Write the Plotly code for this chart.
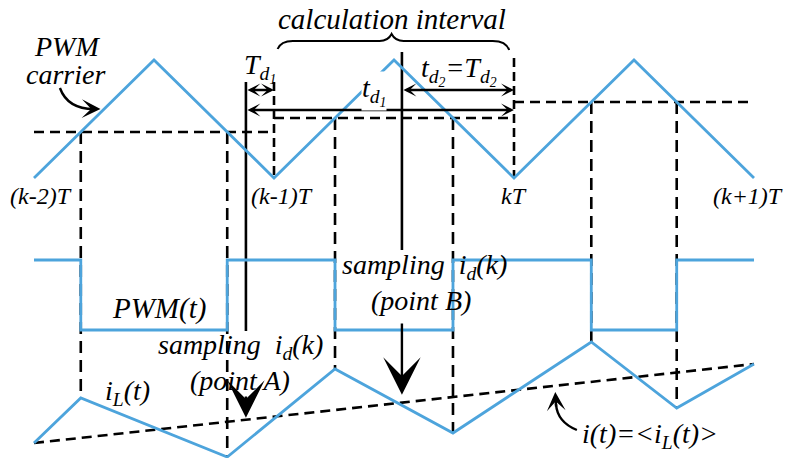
import numpy as np
import plotly.graph_objects as go

# ---- waveform data (time in switching periods T, vertical in drawing units) ----
carrier_t = [0, 0.5, 1, 1.5, 2, 2.5, 3]
carrier_v = [280, 398, 280, 398, 280, 398, 280]
duty_ref = [326, 340, 356]                 # modulating reference held in each period
pwm_levels = [198, 128]                    # PWM high / low
iL_values = [15, 60, 1, 89, 25, 116, 50, 94]  # i_L at t=0, at every switching edge, at t=3
avg_values = [15, 94]                      # <i_L> at t=0 and t=3
sample_t = [0.883, 1.533]                  # sampling instants: point A, point B
period_labels = ["(k-2)T", "(k-1)T", "kT", "(k+1)T"]

BLUE = "#4DA4DC"
FONT = dict(family="Times New Roman, Liberation Serif, Times, serif",
            style="italic", color="black")

valley, peak = min(carrier_v), max(carrier_v)
edges = []
for k, r in enumerate(duty_ref):
    frac = 0.5 * (r - valley) / (peak - valley)
    edges += [k + frac, k + 1 - frac]

iL_t = [0] + edges + [3]
pwm_t = [0] + edges + [3]
pwm_y = [pwm_levels[i % 2] for i in range(len(edges) + 1)] + [pwm_levels[0]]
avg_t = [0, 3]


def avg_at(t):
    return float(np.interp(t, avg_t, avg_values))


fig = go.Figure()


def seg(x, y, color="black", width=2.6, dash=None):
    fig.add_trace(go.Scatter(x=x, y=y, mode="lines", hoverinfo="skip",
                             line=dict(color=color, width=width, dash=dash)))


# reference levels over each period
for k, r in enumerate(duty_ref):
    seg([k, k + 1], [r, r], dash="10px,6px")

# switching instants projected down to the current waveform
for i, e in enumerate(edges):
    seg([e, e], [duty_ref[i // 2], iL_values[i + 1]], dash="12px,7px")

# period boundaries bounding the delays
seg([1, 1], [376, valley], dash="9px,5px")
seg([2, 2], [400, valley], dash="9px,5px")

# sampling instants
seg([sample_t[0]] * 2, [376, 127])
seg([sample_t[1]] * 2, [406, 208])

# average current
seg(avg_t, avg_values, dash="10px,6px")

# blue waveforms
seg(carrier_t, carrier_v, color=BLUE, width=2.8)
fig.add_trace(go.Scatter(x=pwm_t, y=pwm_y, mode="lines", line_shape="hv",
                         hoverinfo="skip", line=dict(color=BLUE, width=2.8)))
seg(iL_t, iL_values, color=BLUE, width=2.8)

ann = []


def text(x, y, s, size=27, **kw):
    d = dict(x=x, y=y, text=s, showarrow=False, xref="x", yref="y",
             font=dict(size=size, **FONT))
    d.update(kw)
    ann.append(d)


def arrow(x0, y0, x1, y1, size=0.8, both=False, head=3, width=2.4):
    d = dict(x=x1, y=y1, ax=x0, ay=y0, xref="x", yref="y", axref="x", ayref="y",
             text="", showarrow=True, arrowhead=head, arrowsize=size,
             arrowwidth=width, arrowcolor="black", standoff=0)
    if both:
        d.update(arrowside="end+start", startarrowhead=head, startarrowsize=size,
                 startstandoff=0)
    ann.append(d)


# delay dimension arrows
arrow(sample_t[0], 368, 1, 368, both=True, size=0.9)
arrow(sample_t[0], 348, 2, 348, both=True, size=0.9)
arrow(sample_t[1], 368, 2, 368, both=True, size=0.9)

# sampling arrows
arrow(sample_t[0], 63, sample_t[0], avg_at(sample_t[0]) + 2, size=2.6, head=3, width=2.4)
arrow(sample_t[1], 136, sample_t[1], avg_at(sample_t[1]) + 8, size=2.6, head=3, width=2.4)

# labels
text(1.492, 439, "calculation interval", size=29)
text((sample_t[0] + 1) / 2, 390, "T<sub>d<sub>1</sub></sub>", size=28)
text(1.415, 367, "t<sub>d<sub>1</sub></sub>", size=28, bgcolor="white", borderpad=0)
text(1.771, 387, "t<sub>d<sub>2</sub></sub>=T<sub>d<sub>2</sub></sub>", size=28)
text(0.1375, 412, "PWM", size=28)
text(0.133, 384, "carrier", size=28)
for i, lab in enumerate(period_labels):
    shift = [7, 8, 0, -6][i]
    text(i, 262, lab, size=24, xshift=shift)
text(0.521, 150, "PWM(t)", size=29)
text(0.862, 112, "sampling  i<sub>d</sub>(k)", size=28)
text(0.858, 78, "(point A)", size=28)
text(1.629, 192, "sampling  i<sub>d</sub>(k)", size=28)
text(1.6125, 158, "(point B)", size=28)
text(0.3875, 66, "i<sub>L</sub>(t)", size=28)
text(2.567, 23, "i(t)=&lt;i<sub>L</sub>(t)&gt;", size=28)

# calculation-interval brace and curved pointers
shapes = [
    dict(type="path", xref="x", yref="y",
         path="M 1.015,409 Q 1.03,418 1.09,417 L 1.44,417 Q 1.475,417 1.49,424 "
              "Q 1.505,417 1.54,417 L 1.90,417 Q 1.965,418 1.98,408",
         line=dict(color="black", width=2.0)),
    dict(type="path", xref="x", yref="y",
         path="M 0.108,370 Q 0.14,349 0.25,349",
         line=dict(color="black", width=2.4)),
    dict(type="path", xref="x", yref="y",
         path="M 2.262,28 Q 2.18,36 2.175,54",
         line=dict(color="black", width=2.4)),
]
arrow(0.235, 349.2, 0.277, 349, size=1.3, head=3)
arrow(2.1755, 50, 2.172, 66, size=1.3, head=3)

fig.update_layout(
    width=785, height=458, margin=dict(l=0, r=0, t=0, b=0),
    paper_bgcolor="white", plot_bgcolor="white", showlegend=False,
    xaxis=dict(range=[-34 / 240, 751 / 240], visible=False, fixedrange=True),
    yaxis=dict(range=[0, 458], visible=False, fixedrange=True),
    annotations=ann, shapes=shapes,
)

fig.write_html("out.html")
